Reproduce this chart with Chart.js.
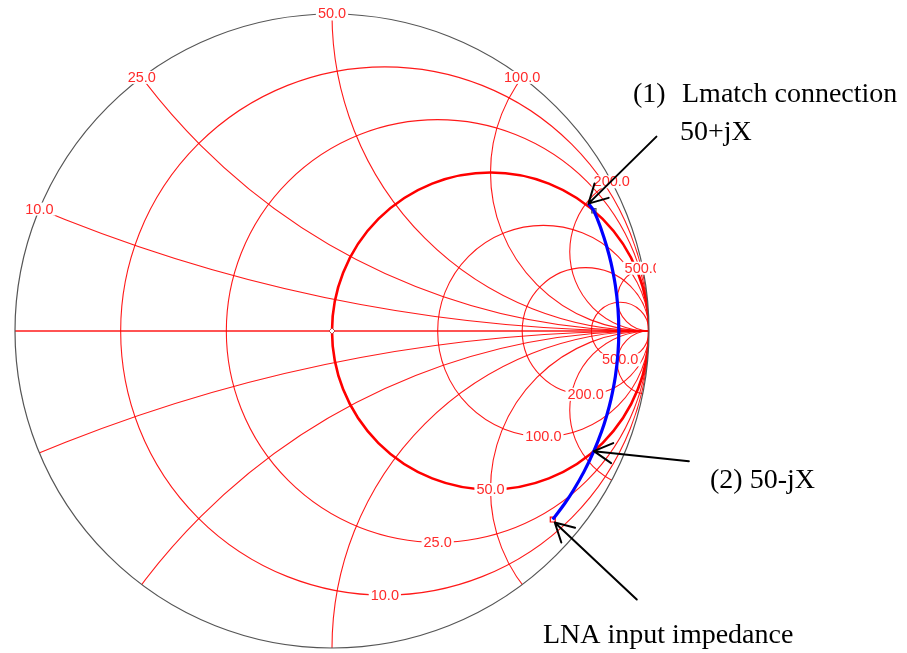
<!DOCTYPE html>
<html>
<head>
<meta charset="utf-8">
<script src="https://cdn.jsdelivr.net/npm/chart.js@4"></script>
<style>
  html, body { margin: 0; padding: 0; background: #fff; }
  #wrap { width: 907px; height: 653px; }
</style>
</head>
<body>
<div id="wrap"><canvas id="smith" width="907" height="653"></canvas></div>
<script>
// Smith chart grid (ohms, Z0 = 50)
const z0 = 50;
const resistanceCircles = [10, 25, 50, 100, 200, 500];
const reactanceArcs = [10, 25, 50, 100, 200, 500];
const gridLabels = ['10.0', '25.0', '50.0', '100.0', '200.0', '500.0'];

// blue trace: LNA input impedance first, end near 50+jX
const traceR = [18.1, 22.4, 27.0, 35.7, 50.0, 71.6, 100.0, 147.9, 280.9, 609.8, 1000.0,
                609.8, 280.9, 147.9, 100.0, 71.6, 50.0, 46.5];
const traceX = [-133.4, -148.1, -162.2, -185.4, -217.9, -257.9, -300.0, -355.0, -449.4, -487.8, 0,
                487.8, 449.4, 355.0, 300.0, 257.9, 217.9, 203.0];

// marked impedances
const lnaInput = [18.1, -133.4];
const point2 = [50.0, -217.9];
const point1 = [46.5, 203.0];
const point1Marker = [50.0, 217.9];
const matchPoint = [50, 0];

// z (ohms) -> reflection coefficient
function toGamma(R, X) {
    const r = R / z0, x = X / z0;
    const d = (r + 1) * (r + 1) + x * x;
    return { x: (r * r + x * x - 1) / d, y: 2 * x / d };
}

const tracePoints = traceR.map((r, i) => toGamma(r, traceX[i]));

const smithGrid = {
    id: 'smithGrid',
    beforeDatasetsDraw(chart) {
        const { ctx, scales: { x, y } } = chart;
        const px = v => x.getPixelForValue(v);
        const py = v => y.getPixelForValue(v);
        const unit = px(1) - px(0);

        ctx.save();
        ctx.beginPath();
        ctx.arc(px(0), py(0), unit, 0, 2 * Math.PI);
        ctx.clip();
        ctx.strokeStyle = 'rgba(255,0,0,0.9)';
        ctx.lineWidth = 1.1;
        reactanceArcs.forEach(X => {
            const xn = X / z0;
            [1, -1].forEach(s => {
                ctx.beginPath();
                ctx.arc(px(1), py(s / xn), unit / xn, 0, 2 * Math.PI);
                ctx.stroke();
            });
        });
        ctx.lineWidth = 1.4;
        ctx.beginPath();
        ctx.moveTo(px(-1), py(0));
        ctx.lineTo(px(1), py(0));
        ctx.stroke();
        resistanceCircles.forEach(R => {
            const rn = R / z0;
            ctx.lineWidth = R === z0 ? 2.6 : 1.1;
            ctx.strokeStyle = R === z0 ? '#ff0000' : 'rgba(255,0,0,0.9)';
            ctx.beginPath();
            ctx.arc(px(rn / (1 + rn)), py(0), unit / (1 + rn), 0, 2 * Math.PI);
            ctx.stroke();
        });
        ctx.restore();

        // outer circle
        ctx.save();
        ctx.strokeStyle = '#555';
        ctx.lineWidth = 1.2;
        ctx.beginPath();
        ctx.arc(px(0), py(0), unit, 0, 2 * Math.PI);
        ctx.stroke();

        // labels
        ctx.beginPath();
        ctx.rect(0, 0, 656, chart.height);
        ctx.clip();
        ctx.font = '14.5px "Liberation Sans", Arial, sans-serif';
        ctx.textAlign = 'center';
        ctx.textBaseline = 'middle';
        const label = (text, cx, cy) => {
            const w = ctx.measureText(text).width;
            ctx.fillStyle = '#fff';
            ctx.fillRect(cx - w / 2 - 2, cy - 6.5, w + 4, 13);
            ctx.fillStyle = '#ff2a2a';
            ctx.fillText(text, cx, cy + 0.5);
        };
        reactanceArcs.forEach((X, i) => {
            const g = toGamma(0, X);
            label(gridLabels[i], px(g.x), py(g.y));
        });
        resistanceCircles.forEach((R, i) => {
            const rn = R / z0;
            label(gridLabels[i], px(rn / (1 + rn)), py(-1 / (1 + rn)));
        });
        ctx.restore();
    },
    afterDatasetsDraw(chart) {
        const { ctx, scales: { x, y } } = chart;
        const pt = z => {
            const g = toGamma(z[0], z[1]);
            return [x.getPixelForValue(g.x), y.getPixelForValue(g.y)];
        };
        const arrow = (tip, dx, dy) => {
            const [tx, ty] = tip;
            const a = Math.atan2(dy, dx);
            ctx.beginPath();
            ctx.moveTo(tx + dx, ty + dy);
            ctx.lineTo(tx, ty);
            [0.5, -0.5].forEach(da => {
                ctx.moveTo(tx, ty);
                ctx.lineTo(tx + 21 * Math.cos(a + da), ty + 21 * Math.sin(a + da));
            });
            ctx.stroke();
        };
        ctx.save();
        ctx.strokeStyle = '#000';
        ctx.lineWidth = 2;
        ctx.lineCap = 'round';
        arrow(pt(point1), 68, -67);
        arrow(pt(point2), 95, 10);
        const p = pt(lnaInput);
        arrow([p[0] + 2, p[1] + 3], 82, 77);

        ctx.fillStyle = '#000';
        ctx.font = '28px "Liberation Serif", "Times New Roman", serif';
        ctx.textAlign = 'left';
        ctx.textBaseline = 'alphabetic';
        ctx.fillText('(1)', 633, 102);
        ctx.fillText('Lmatch connection', 682, 102);
        ctx.fillText('50+jX', 680, 140);
        ctx.fillText('(2) 50-jX', 710, 488);
        ctx.fillText('LNA input impedance', 543, 643);
        ctx.restore();
    }
};

const g1 = toGamma(point1Marker[0], point1Marker[1]);
const g0 = toGamma(lnaInput[0], lnaInput[1]);
const gm = toGamma(matchPoint[0], matchPoint[1]);

new Chart(document.getElementById('smith'), {
    type: 'scatter',
    data: {
        datasets: [
            {
                data: tracePoints,
                showLine: true,
                borderColor: '#0000ff',
                borderWidth: 3.2,
                pointRadius: 0,
                tension: 0.4
            },
            {
                data: [g0],
                pointStyle: 'rect',
                pointRadius: 3.5,
                borderColor: '#ff0000',
                backgroundColor: 'rgba(255,255,255,0)',
                borderWidth: 1.2
            },
            {
                data: [g1],
                pointStyle: 'rect',
                pointRadius: 3,
                borderColor: '#555',
                backgroundColor: 'rgba(255,255,255,0)',
                borderWidth: 1.2
            },
            {
                data: [gm],
                pointStyle: 'rectRot',
                pointRadius: 3,
                borderColor: '#c04040',
                backgroundColor: '#fff',
                borderWidth: 1
            }
        ]
    },
    options: {
        responsive: false,
        animation: false,
        layout: { padding: 0, autoPadding: false },
        plugins: { legend: { display: false }, tooltip: { enabled: false } },
        scales: {
            x: { type: 'linear', min: -1.04732, max: 1.81388, display: false },
            y: { type: 'linear', min: -1.01577, max: 1.04416, display: false }
        }
    },
    plugins: [smithGrid]
});
</script>
</body>
</html>
